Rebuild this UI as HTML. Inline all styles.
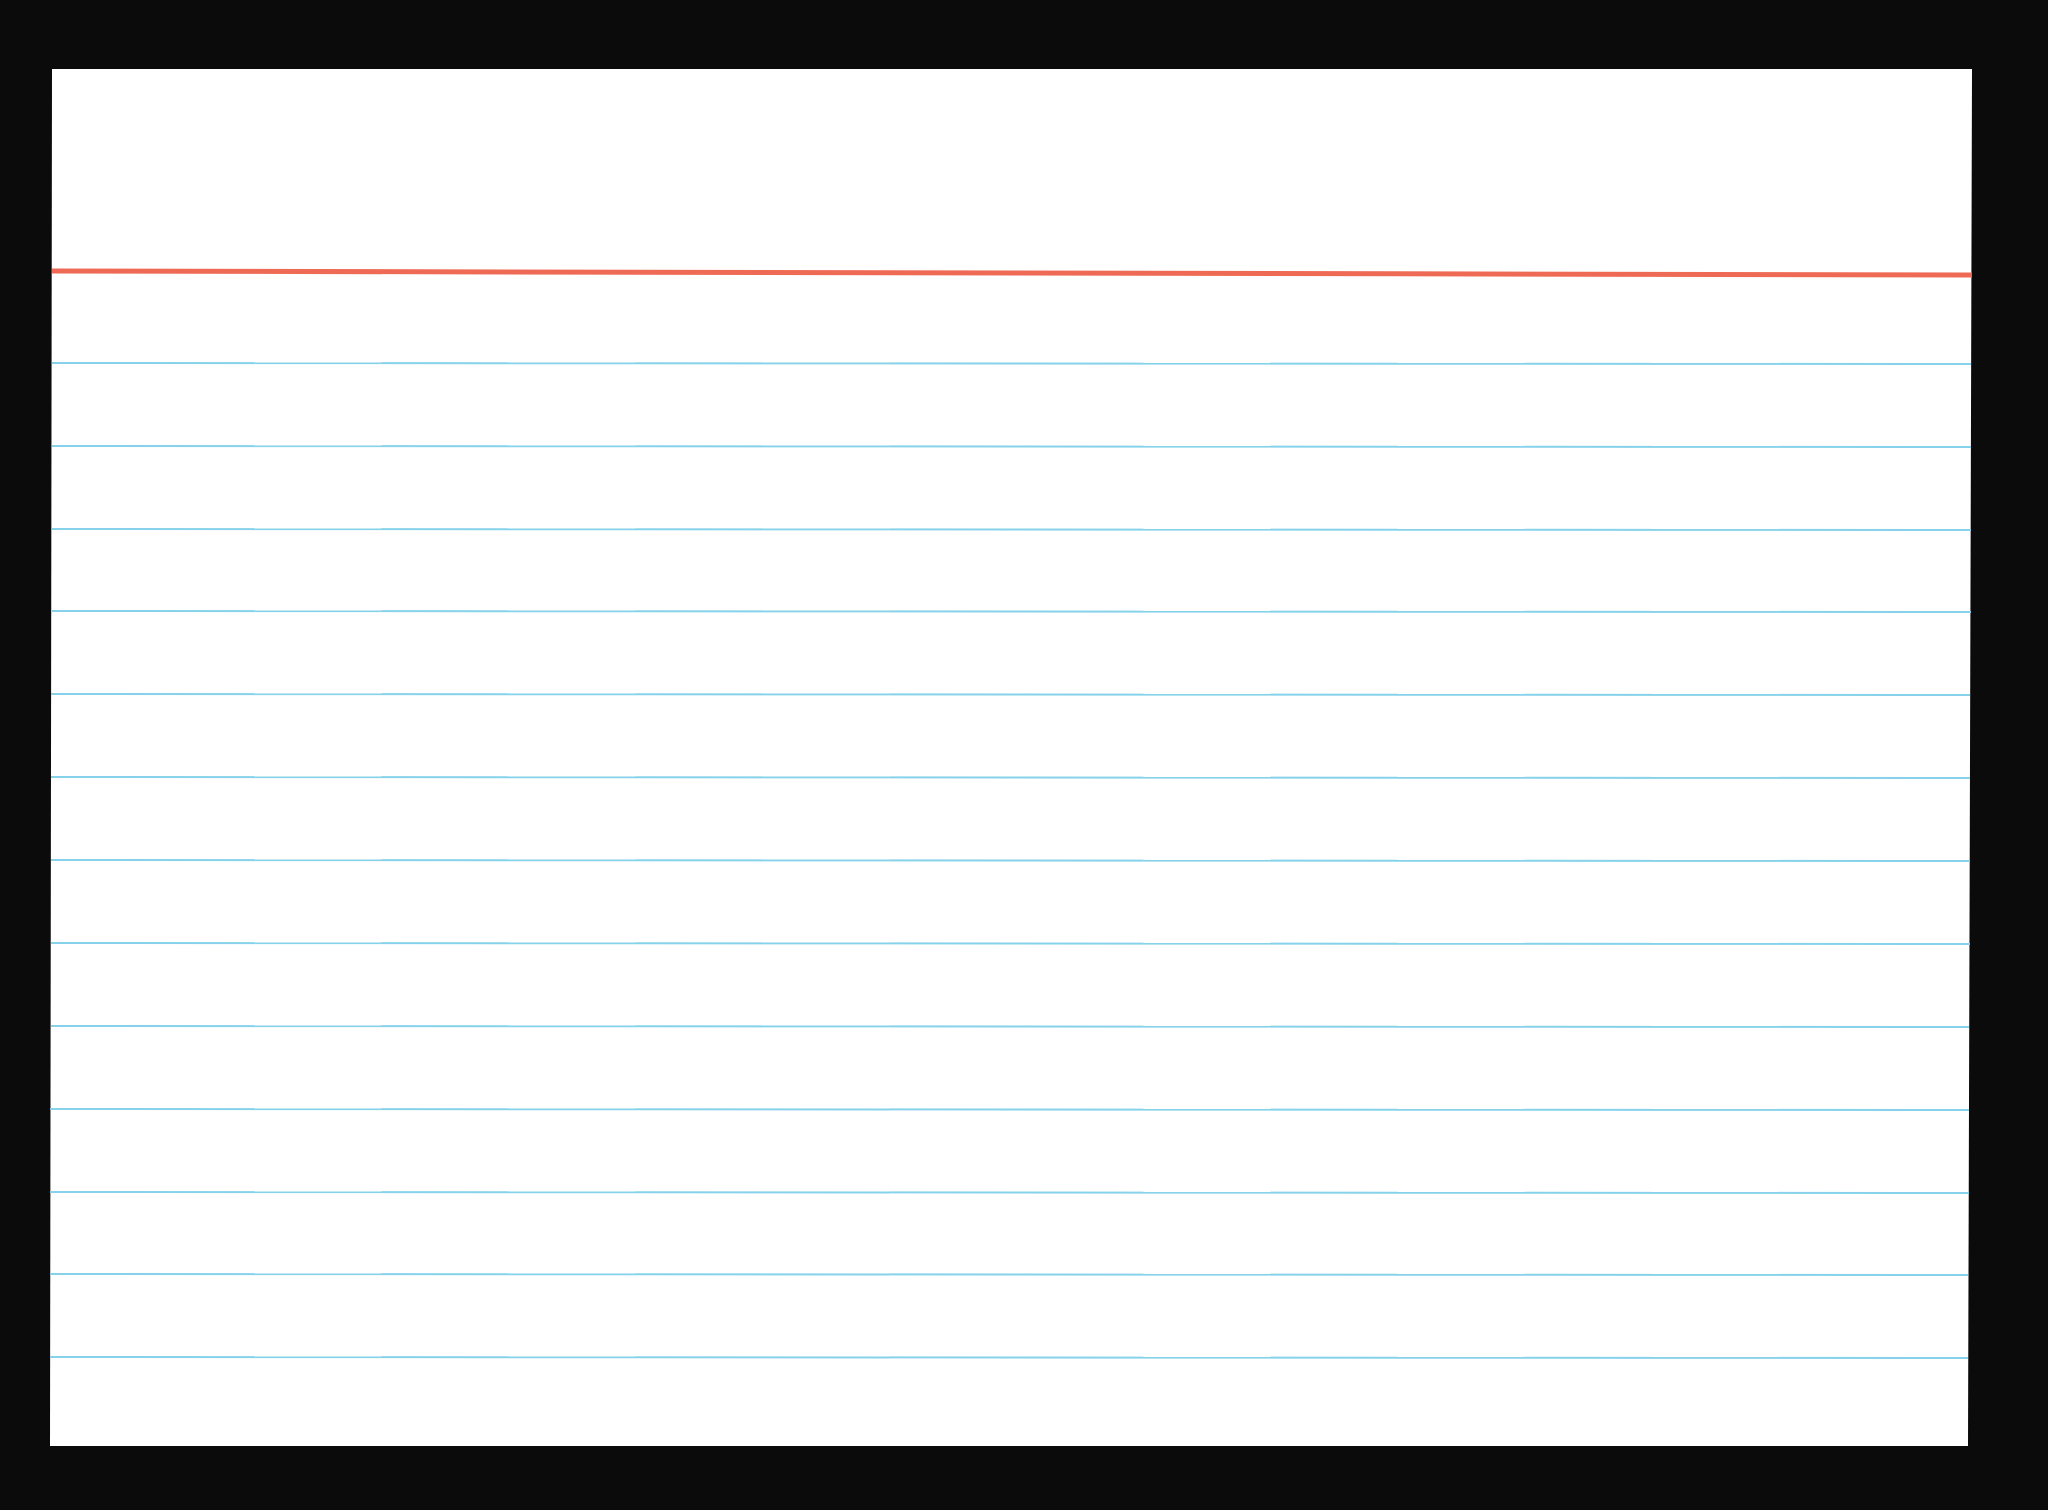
<!DOCTYPE html>
<html><head><meta charset="utf-8"><style>
html,body{margin:0;padding:0;background:#0b0b0b;}
svg{display:block;}
</style></head><body>
<svg width="2048" height="1510" viewBox="0 0 2048 1510" xmlns="http://www.w3.org/2000/svg">
<rect width="2048" height="1510" fill="#0b0b0b"/>
<polygon points="52,69 1972,69 1968,1446 50,1446" fill="#ffffff"/>
<line x1="52" y1="271" x2="1972" y2="275" stroke="#ef6a55" stroke-width="5"/>
<g stroke="#86d2ea" stroke-width="2">
<line x1="52" y1="363" x2="1971" y2="364"/>
<line x1="52" y1="446" x2="1971" y2="447"/>
<line x1="52" y1="529" x2="1971" y2="530"/>
<line x1="52" y1="611" x2="1971" y2="612"/>
<line x1="51" y1="694" x2="1970" y2="695"/>
<line x1="51" y1="777" x2="1970" y2="778"/>
<line x1="51" y1="860" x2="1970" y2="861"/>
<line x1="51" y1="943" x2="1970" y2="944"/>
<line x1="51" y1="1026" x2="1969" y2="1027"/>
<line x1="50" y1="1109" x2="1969" y2="1110"/>
<line x1="50" y1="1192" x2="1969" y2="1193"/>
<line x1="50" y1="1274" x2="1968" y2="1275"/>
<line x1="50" y1="1357" x2="1968" y2="1358"/>
</g>
</svg>
</body></html>
